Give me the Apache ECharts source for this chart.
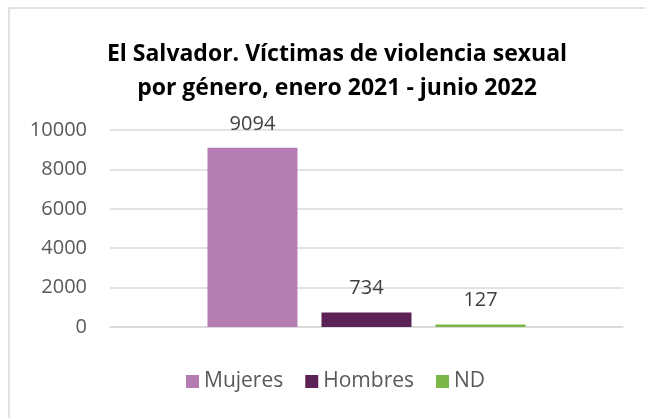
<!DOCTYPE html>
<html>
<head>
<meta charset="utf-8">
<script src="https://cdn.jsdelivr.net/npm/echarts@6/dist/echarts.min.js"></script>
<style>
  html, body { margin: 0; padding: 0; background: #fff; }
  #chart { width: 645px; height: 418px; }
</style>
</head>
<body>
<div id="chart"></div>
<script>
const categories = ['']
const seriesNames = ['Mujeres', 'Hombres', 'ND']
const mujeres = [9094]
const hombres = [734]
const nd = [127]
const yTicks = [0, 2000, 4000, 6000, 8000, 10000]
const colors = ['#b57cb3', '#5c2255', '#7ab648']

const chart = echarts.init(document.getElementById('chart'))
const font = '"Open Sans", sans-serif'

const barStyle = (name, data, color) => ({
  name: name,
  type: 'bar',
  data: data,
  barWidth: 90,
  barGap: '26.7%',
  itemStyle: { color: color },
  label: {
    show: true,
    position: 'top',
    distance: 14,
    color: '#404040',
    fontSize: 20,
    fontFamily: font
  }
})

const option = {
  animation: false,
  graphic: [{
    type: 'rect',
    shape: { x: 9, y: 8, width: 700, height: 500 },
    style: { fill: 'none', stroke: '#d9d9d9', lineWidth: 1.5 },
    silent: true
  }],
  title: {
    text: 'El Salvador. Víctimas de violencia sexual\npor género, enero 2021 - junio 2022',
    left: 332,
    textAlign: 'center',
    top: 32,
    textStyle: {
      fontFamily: font,
      fontWeight: 'bold',
      fontSize: 23,
      lineHeight: 34,
      color: '#000'
    }
  },
  legend: {
    data: seriesNames,
    bottom: 21,
    left: 181,
    icon: 'rect',
    itemWidth: 13,
    itemHeight: 13,
    itemGap: 22,
    textStyle: { color: '#595959', fontSize: 21, fontFamily: font }
  },
  grid: { left: 110, right: 22, top: 130, bottom: 91 },
  xAxis: {
    type: 'category',
    data: categories,
    axisTick: { show: false },
    axisLabel: { show: false },
    axisLine: { lineStyle: { color: '#d9d9d9', width: 1.5 } }
  },
  yAxis: {
    type: 'value',
    min: yTicks[0],
    max: yTicks[yTicks.length - 1],
    interval: 2000,
    axisLine: { show: false },
    axisTick: { show: false },
    axisLabel: {
      color: '#595959',
      fontSize: 20,
      fontFamily: font,
      margin: 23,
      formatter: v => String(v)
    },
    splitLine: { lineStyle: { color: '#d9d9d9', width: 1.5 } }
  },
  series: [
    barStyle(seriesNames[0], mujeres, colors[0]),
    barStyle(seriesNames[1], hombres, colors[1]),
    barStyle(seriesNames[2], nd, colors[2])
  ]
}

chart.setOption(option)
</script>
</body>
</html>
